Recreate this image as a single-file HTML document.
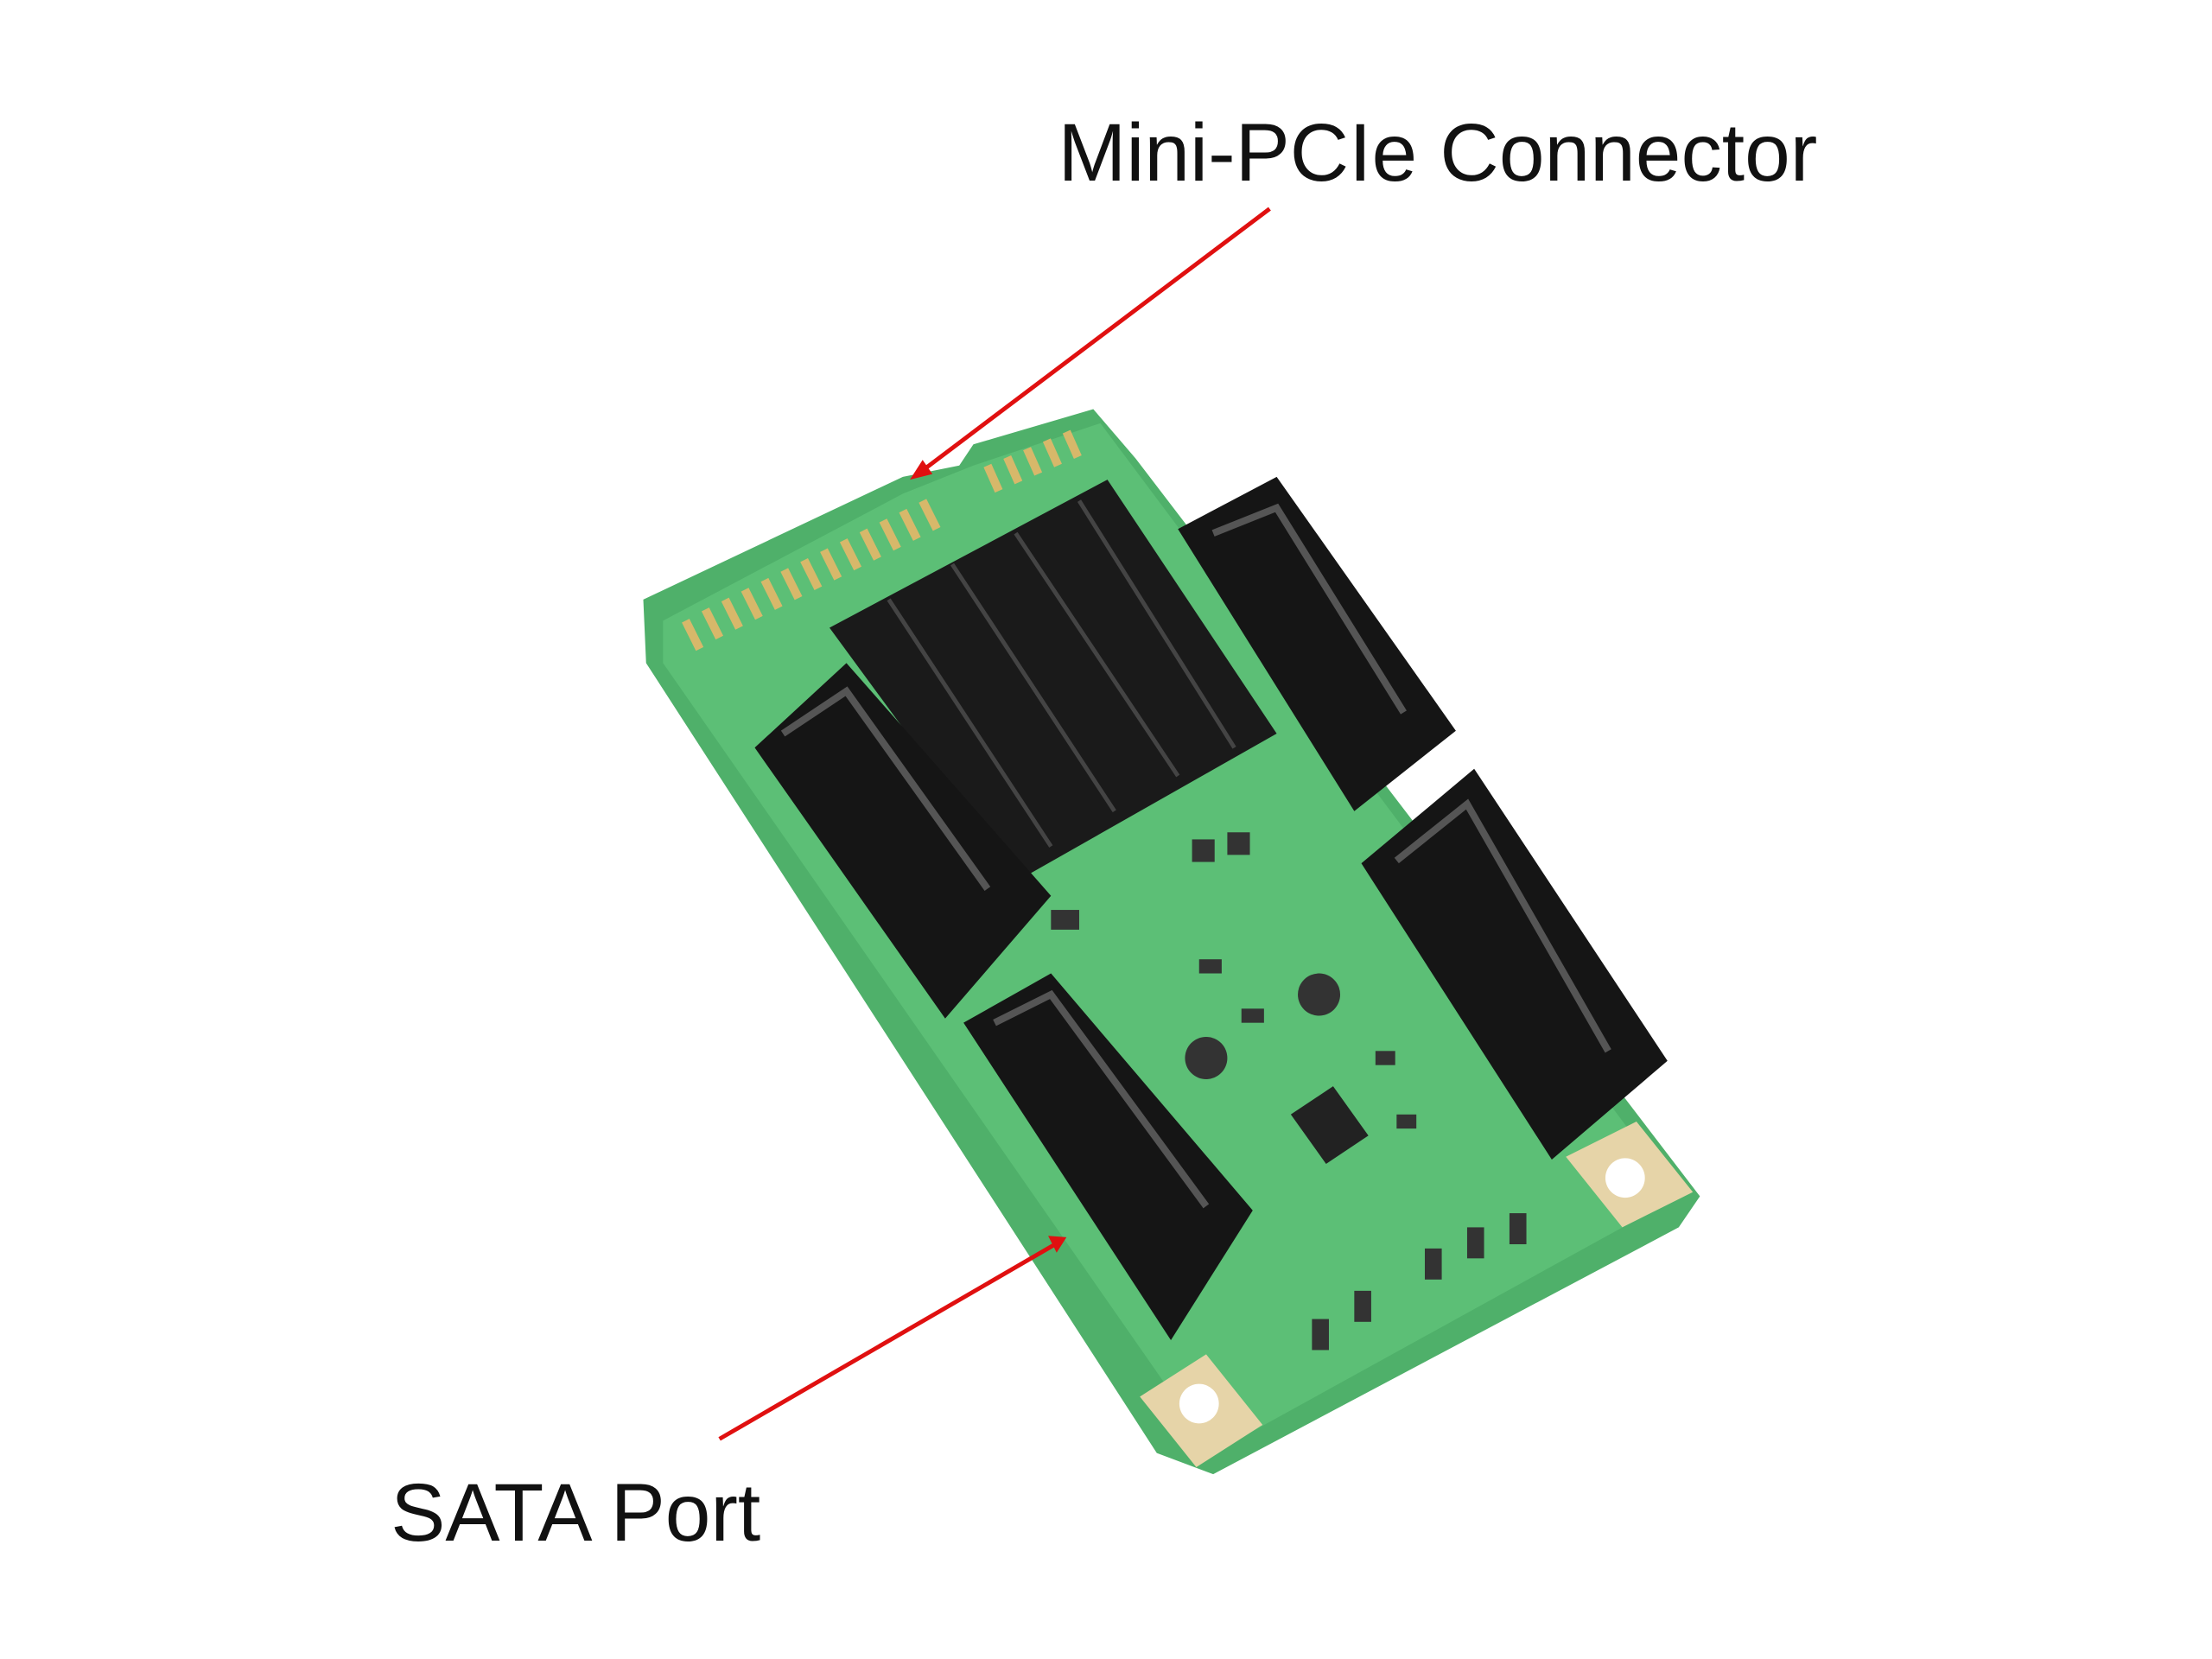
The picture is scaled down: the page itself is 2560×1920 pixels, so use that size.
<!DOCTYPE html>
<html><head><meta charset="utf-8"><style>
html,body{margin:0;padding:0;background:#fff;width:2560px;height:1920px;overflow:hidden}
svg{display:block}
</style></head><body>
<svg width="2560" height="1920" viewBox="0 0 1568 1176" xmlns="http://www.w3.org/2000/svg">
<rect width="1568" height="1176" fill="#fff"/>
<!-- board -->
<polygon points="456,425 640,338 680,330 690,315 775,290 805,325 1205,848 1190,870 860,1045 820,1030 458,470" fill="#4fb06a"/>
<polygon points="470,440 640,350 690,330 780,300 1190,848 860,1030 470,470" fill="#5cbf76"/>
<!-- edge connector pins -->
<g stroke="#d7b86a" stroke-width="6">
<line x1="486" y1="440" x2="496" y2="460"/><line x1="500" y1="432" x2="510" y2="452"/>
<line x1="514" y1="425" x2="524" y2="445"/><line x1="528" y1="418" x2="538" y2="438"/>
<line x1="542" y1="411" x2="552" y2="431"/><line x1="556" y1="404" x2="566" y2="424"/>
<line x1="570" y1="397" x2="580" y2="417"/><line x1="584" y1="390" x2="594" y2="410"/>
<line x1="598" y1="383" x2="608" y2="403"/><line x1="612" y1="376" x2="622" y2="396"/>
<line x1="626" y1="369" x2="636" y2="389"/><line x1="640" y1="362" x2="650" y2="382"/>
<line x1="654" y1="355" x2="664" y2="375"/>
<line x1="700" y1="330" x2="708" y2="348"/><line x1="714" y1="324" x2="722" y2="342"/>
<line x1="728" y1="318" x2="736" y2="336"/><line x1="742" y1="312" x2="750" y2="330"/>
<line x1="756" y1="306" x2="764" y2="324"/>
</g>
<!-- mounting holes -->
<polygon points="1110,820 1160,795 1200,845 1150,870" fill="#e6d4a8"/><circle cx="1152" cy="835" r="14" fill="#fff"/>
<polygon points="808,990 855,960 895,1010 848,1040" fill="#e6d4a8"/><circle cx="850" cy="995" r="14" fill="#fff"/>
<!-- heatsink -->
<polygon points="588,445 785,340 905,520 720,625" fill="#1a1a1a"/>
<g stroke="#444" stroke-width="3">
<line x1="630" y1="425" x2="745" y2="600"/><line x1="675" y1="400" x2="790" y2="575"/>
<line x1="720" y1="378" x2="835" y2="550"/><line x1="765" y1="355" x2="875" y2="530"/>
</g>
<!-- SATA connectors -->
<polygon points="535,530 600,470 745,635 670,722" fill="#151515"/>
<polyline points="555,520 600,490 700,630" fill="none" stroke="#555" stroke-width="5"/>
<polygon points="683,725 745,690 888,858 830,950" fill="#151515"/>
<polyline points="705,725 745,705 855,855" fill="none" stroke="#555" stroke-width="5"/>
<polygon points="835,375 905,338 1032,518 960,575" fill="#151515"/>
<polyline points="860,378 905,360 995,505" fill="none" stroke="#555" stroke-width="5"/>
<polygon points="965,612 1045,545 1182,752 1100,822" fill="#151515"/>
<polyline points="990,610 1040,570 1140,745" fill="none" stroke="#555" stroke-width="5"/>
<!-- chip and components -->
<polygon points="915,790 945,770 970,805 940,825" fill="#222"/>
<circle cx="935" cy="705" r="15" fill="#333"/><circle cx="855" cy="750" r="15" fill="#333"/>
<g fill="#333">
<rect x="850" y="680" width="16" height="10"/><rect x="880" y="715" width="16" height="10"/>
<rect x="975" y="745" width="14" height="10"/><rect x="990" y="790" width="14" height="10"/>
<rect x="1040" y="870" width="12" height="22"/><rect x="1070" y="860" width="12" height="22"/>
<rect x="1010" y="885" width="12" height="22"/><rect x="960" y="915" width="12" height="22"/>
<rect x="930" y="935" width="12" height="22"/><rect x="745" y="645" width="20" height="14"/>
<rect x="845" y="595" width="16" height="16"/><rect x="870" y="590" width="16" height="16"/>
</g>
<!-- labels -->
<text x="750" y="128" font-family="Liberation Sans, sans-serif" font-size="58" fill="#111">Mini-PCIe Connector</text>
<text x="277" y="1092" font-family="Liberation Sans, sans-serif" font-size="58" fill="#111">SATA Port</text>
<!-- red arrows -->
<line x1="900" y1="148" x2="652" y2="335" stroke="#e01010" stroke-width="3"/>
<polygon points="645,340 654,326 661,336" fill="#e01010"/>
<line x1="510" y1="1020" x2="748" y2="882" stroke="#e01010" stroke-width="3"/>
<polygon points="756,877 743,876 749,888" fill="#e01010"/>
</svg>
</body></html>
